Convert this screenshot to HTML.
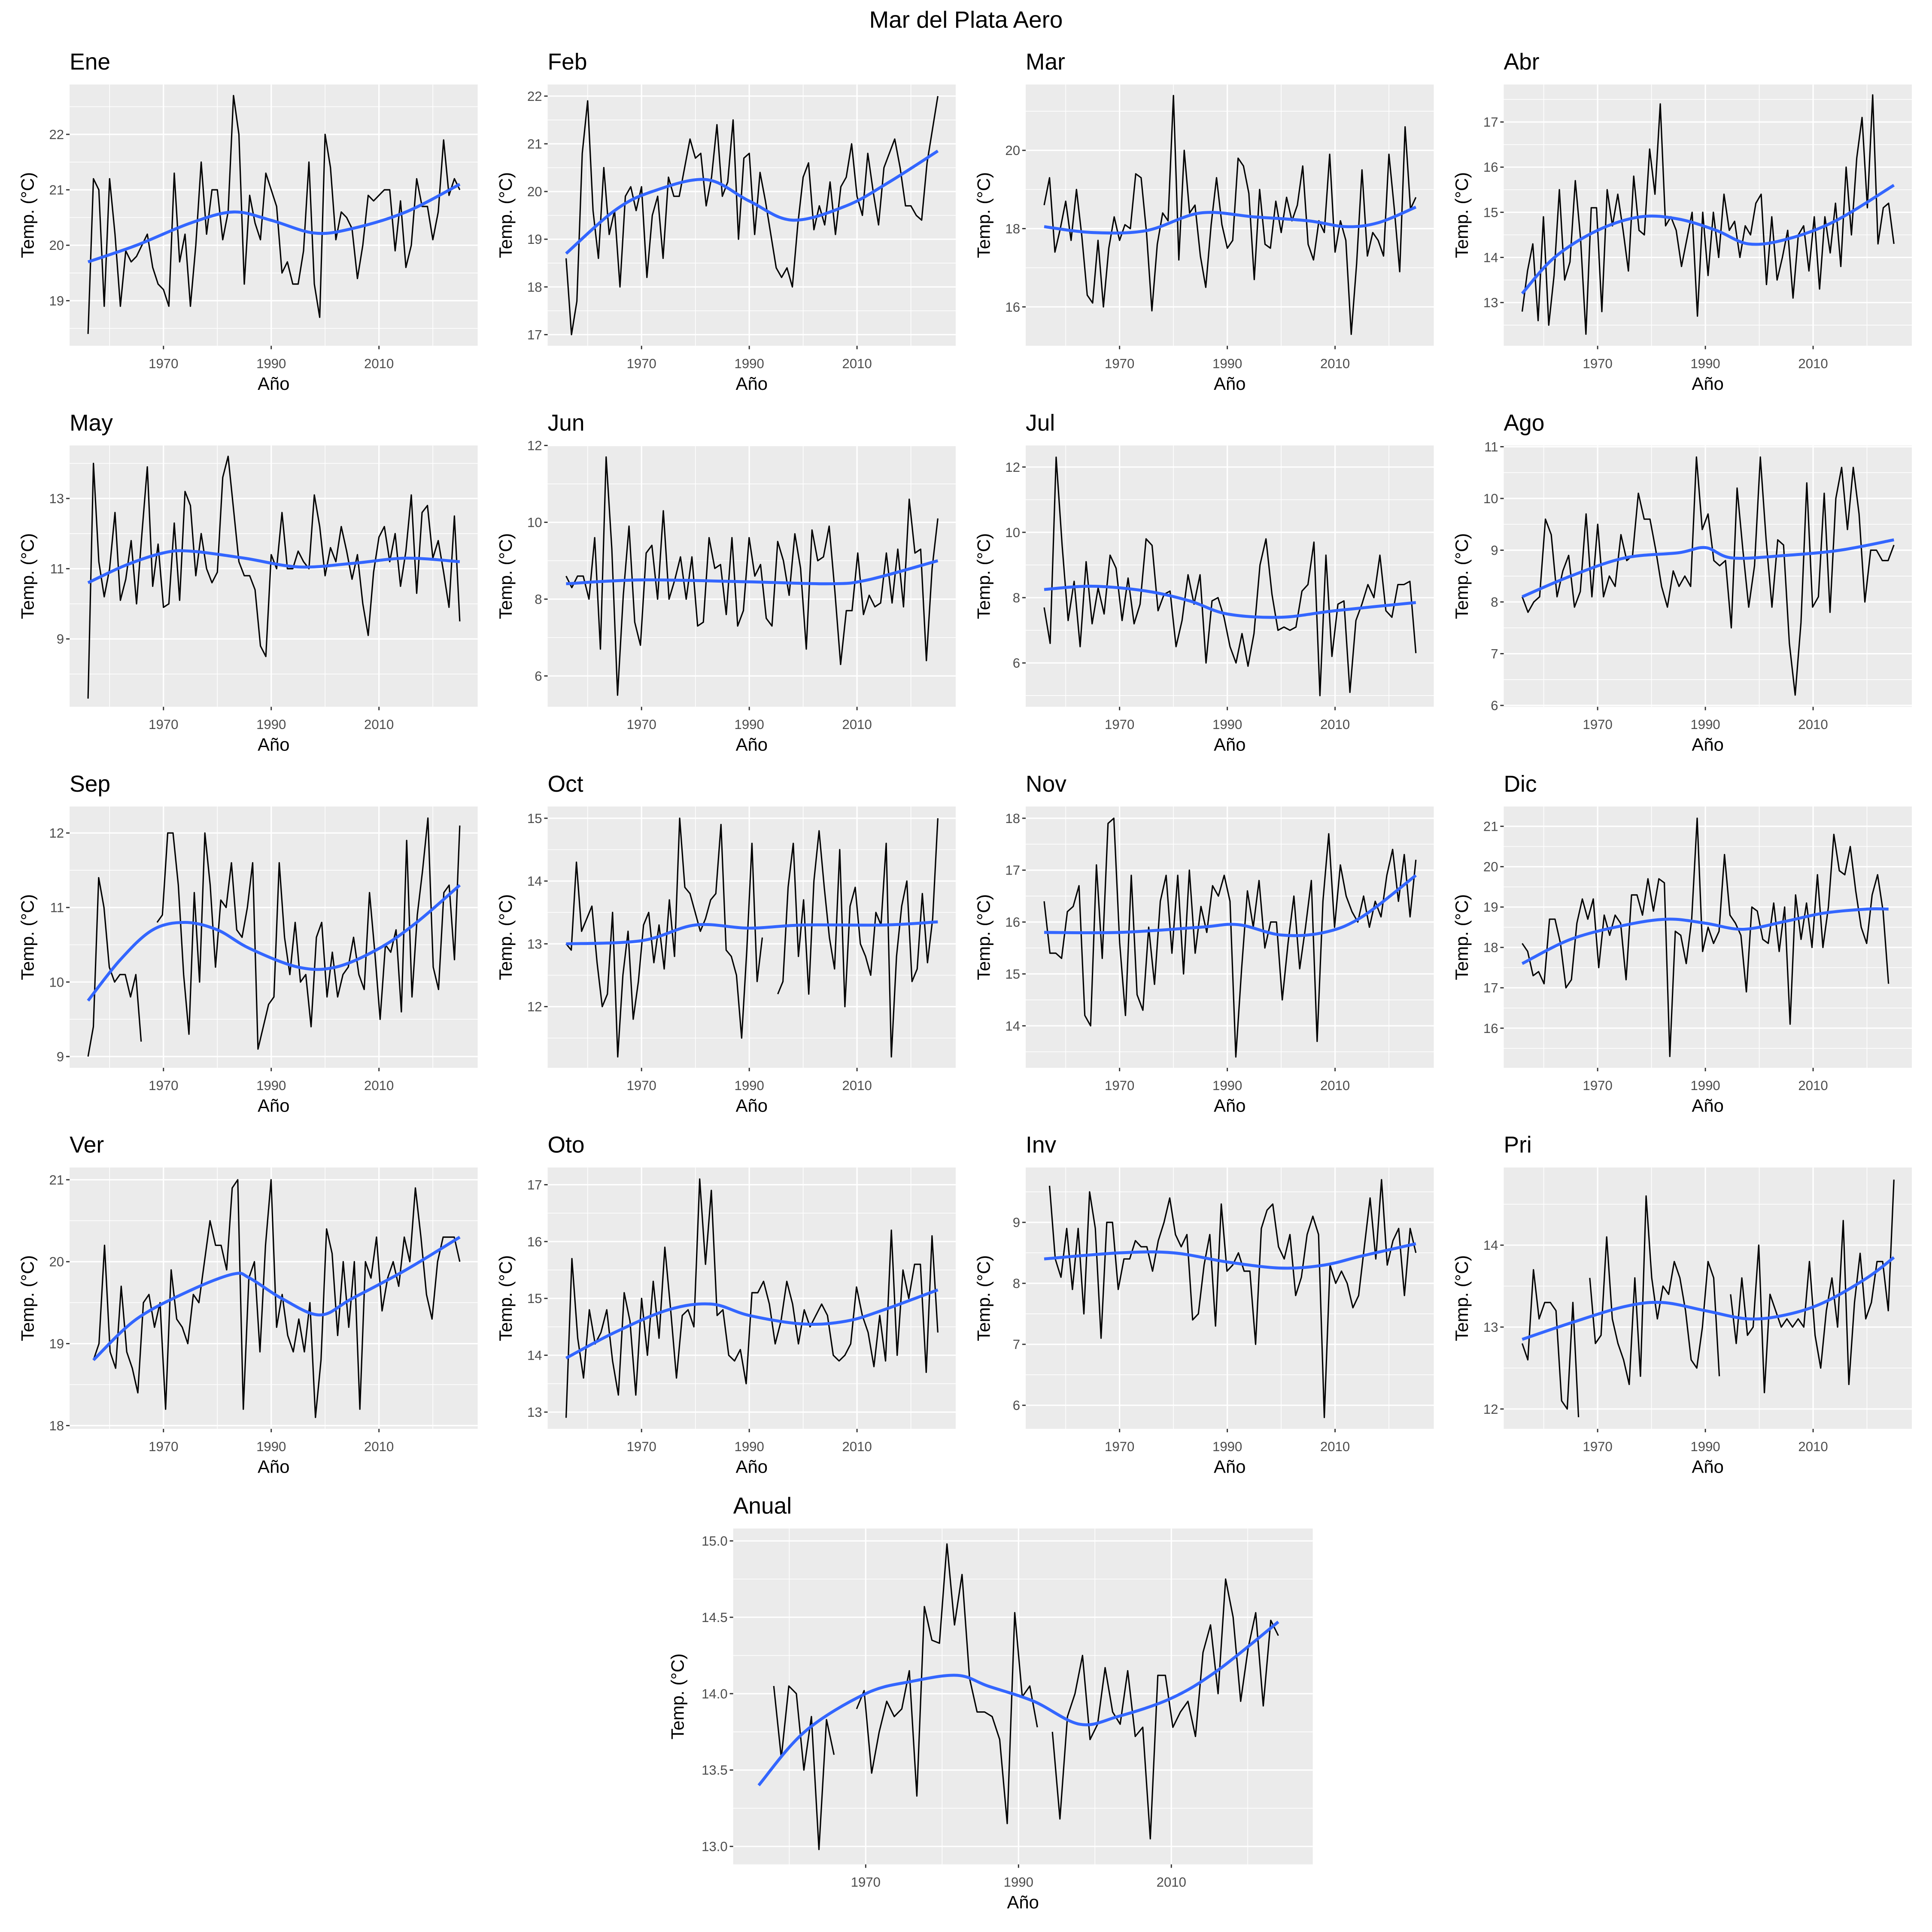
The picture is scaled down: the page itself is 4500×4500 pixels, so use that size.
<!DOCTYPE html>
<html><head><meta charset="utf-8"><style>
html,body{margin:0;padding:0;background:#fff;}
svg{display:block;}
text{font-family:"Liberation Sans",Arial,sans-serif;}
</style></head><body>
<svg id="s" width="4500" height="4500" viewBox="0 0 1560 1560" xmlns="http://www.w3.org/2000/svg">
<rect width="1560" height="1560" fill="#fff"/>
<text x="780" y="22.4" font-size="19" text-anchor="middle" fill="#000">Mar del Plata Aero</text>
</svg>
<script>
var N=null;
var P=[
{t:"Ene",c:0,r:0,ticks:[19,20,21,22],ty:[242.8,108.5],s:1956,e:2025,
d:[18.4,21.2,21.0,18.9,21.2,20.2,18.9,19.9,19.7,19.8,20.0,20.2,19.6,19.3,19.2,18.9,21.3,19.7,20.2,18.9,20.0,21.5,20.2,21.0,21.0,20.1,20.6,22.7,22.0,19.3,20.9,20.4,20.1,21.3,21.0,20.7,19.5,19.7,19.3,19.3,19.9,21.5,19.3,18.7,22.0,21.4,20.1,20.6,20.5,20.3,19.4,20.0,20.9,20.8,20.9,21.0,21.0,19.9,20.8,19.6,20.0,21.2,20.7,20.7,20.1,20.6,21.9,20.9,21.2,21.0],
m:[[1956,19.7],[1965,20.0],[1975,20.4],[1983,20.6],[1990,20.45],[1998,20.22],[2005,20.3],[2015,20.6],[2025,21.1]]},
{t:"Feb",c:1,r:0,ticks:[17,18,19,20,21,22],ty:[270.2,77.6],s:1956,e:2025,
d:[18.6,17.0,17.7,20.8,21.9,19.6,18.6,20.5,19.1,19.6,18.0,19.9,20.1,19.6,20.1,18.2,19.5,19.9,18.6,20.3,19.9,19.9,20.5,21.1,20.7,20.8,19.7,20.3,21.4,19.9,20.2,21.5,19.0,20.7,20.8,19.1,20.4,19.8,19.1,18.4,18.2,18.4,18.0,19.3,20.3,20.6,19.2,19.7,19.3,20.2,19.1,20.1,20.3,21.0,19.9,19.5,20.8,20.0,19.3,20.5,20.8,21.1,20.5,19.7,19.7,19.5,19.4,20.6,21.3,22.0],
m:[[1956,18.7],[1965,19.6],[1972,20.0],[1982,20.25],[1990,19.8],[1998,19.4],[2008,19.7],[2016,20.2],[2025,20.85]]},
{t:"Mar",c:2,r:0,ticks:[16,18,20],ty:[247.8,121.4],s:1956,e:2025,
d:[18.6,19.3,17.4,18.0,18.7,17.7,19.0,17.8,16.3,16.1,17.7,16.0,17.5,18.3,17.7,18.1,18.0,19.4,19.3,17.9,15.9,17.6,18.4,18.2,21.4,17.2,20.0,18.4,18.6,17.3,16.5,18.1,19.3,18.1,17.5,17.7,19.8,19.6,18.9,16.7,19.0,17.6,17.5,18.7,17.9,18.8,18.2,18.6,19.6,17.6,17.2,18.2,17.9,19.9,17.4,18.2,17.7,15.3,17.1,19.5,17.3,17.9,17.7,17.3,19.9,18.5,16.9,20.6,18.5,18.8],
m:[[1956,18.05],[1965,17.9],[1975,17.95],[1985,18.4],[1995,18.3],[2005,18.2],[2012,18.05],[2018,18.15],[2025,18.55]]},
{t:"Abr",c:3,r:0,ticks:[13,14,15,16,17],ty:[244.3,98.5],s:1956,e:2025,
d:[12.8,13.7,14.3,12.6,14.9,12.5,13.6,15.5,13.5,13.9,15.7,14.4,12.3,15.1,15.1,12.8,15.5,14.7,15.4,14.6,13.7,15.8,14.6,14.5,16.4,15.4,17.4,14.7,14.9,14.6,13.8,14.4,15.0,12.7,15.0,13.6,15.0,14.0,15.4,14.6,14.8,14.0,14.7,14.5,15.2,15.4,13.4,14.9,13.5,14.0,14.6,13.1,14.5,14.7,13.7,14.9,13.3,14.9,14.1,15.2,13.8,16.0,14.5,16.2,17.1,15.1,17.6,14.3,15.1,15.2,14.3],
m:[[1956,13.2],[1962,14.0],[1970,14.6],[1978,14.9],[1985,14.85],[1992,14.6],[1998,14.3],[2005,14.4],[2014,14.8],[2025,15.6]]},
{t:"May",c:0,r:1,ticks:[9,11,13],ty:[515.9,402.5],s:1956,e:2025,
d:[7.3,14.0,11.2,10.2,11.0,12.6,10.1,10.7,11.8,10.0,12.0,13.9,10.5,11.7,9.9,10.0,12.3,10.1,13.2,12.8,10.8,12.0,11.0,10.6,10.9,13.6,14.2,12.7,11.2,10.8,10.8,10.4,8.8,8.5,11.4,11.0,12.6,11.0,11.0,11.5,11.2,11.0,13.1,12.2,10.8,11.6,11.2,12.2,11.5,10.7,11.4,10.0,9.1,10.9,11.9,12.2,11.2,12.0,10.5,11.5,13.1,10.3,12.6,12.8,11.3,11.8,10.9,9.9,12.5,9.5],
m:[[1956,10.6],[1963,11.1],[1970,11.45],[1975,11.5],[1985,11.3],[1995,11.05],[2005,11.15],[2015,11.3],[2025,11.2]]},
{t:"Jun",c:1,r:1,ticks:[6,8,10,12],ty:[545.8,359.7],s:1956,e:2025,
d:[8.6,8.3,8.6,8.6,8.0,9.6,6.7,11.7,9.3,5.5,8.1,9.9,7.4,6.8,9.2,9.4,8.0,10.3,8.0,8.5,9.1,8.0,9.1,7.3,7.4,9.6,8.8,8.9,7.6,9.6,7.3,7.7,9.6,8.6,8.9,7.5,7.3,9.5,9.0,8.1,9.7,8.8,6.7,9.8,9.0,9.1,9.9,8.2,6.3,7.7,7.7,9.2,7.6,8.1,7.8,7.9,9.2,7.9,9.3,7.8,10.6,9.2,9.3,6.4,8.8,10.1],
m:[[1956,8.4],[1970,8.5],[1990,8.45],[2005,8.4],[2012,8.5],[2025,9.0]]},
{t:"Jul",c:2,r:1,ticks:[6,8,10,12],ty:[535.3,377.1],s:1956,e:2025,
d:[7.7,6.6,12.3,9.6,7.3,8.5,6.5,9.1,7.2,8.3,7.5,9.3,8.9,7.3,8.6,7.2,7.8,9.8,9.6,7.6,8.1,8.2,6.5,7.3,8.7,7.8,8.7,6.0,7.9,8.0,7.4,6.5,6.0,6.9,5.9,6.9,9.0,9.8,8.1,7.0,7.1,7.0,7.1,8.2,8.4,9.7,5.0,9.3,6.2,7.8,7.9,5.1,7.3,7.8,8.4,8.0,9.3,7.6,7.4,8.4,8.4,8.5,6.3],
m:[[1956,8.25],[1965,8.35],[1975,8.2],[1983,7.9],[1990,7.5],[2000,7.4],[2010,7.6],[2025,7.85]]},
{t:"Ago",c:3,r:1,ticks:[6,7,8,9,10,11],ty:[569.6,360.7],s:1956,e:2025,
d:[8.1,7.8,8.0,8.1,9.6,9.3,8.1,8.6,8.9,7.9,8.2,9.7,8.1,9.5,8.1,8.5,8.3,9.3,8.8,8.9,10.1,9.6,9.6,9.0,8.3,7.9,8.6,8.3,8.5,8.3,10.8,9.4,9.7,8.8,8.7,8.8,7.5,10.2,9.0,7.9,8.7,10.8,9.2,7.9,9.2,9.1,7.2,6.2,7.6,10.3,7.9,8.1,10.1,7.8,10.0,10.6,9.4,10.6,9.7,8.0,9.0,9.0,8.8,8.8,9.1],
m:[[1956,8.1],[1965,8.5],[1975,8.85],[1985,8.95],[1990,9.05],[1995,8.85],[2005,8.9],[2015,9.0],[2025,9.2]]},
{t:"Sep",c:0,r:2,ticks:[9,10,11,12],ty:[853.1,672.6],s:1956,e:2025,
d:[9.0,9.4,11.4,11.0,10.2,10.0,10.1,10.1,9.8,10.1,9.2,N,N,10.8,10.9,12.0,12.0,11.3,10.1,9.3,11.2,10.0,12.0,11.3,10.2,11.1,11.0,11.6,10.7,10.6,11.0,11.6,9.1,9.4,9.7,9.8,11.6,10.6,10.1,10.8,10.0,10.1,9.4,10.6,10.8,9.8,10.4,9.8,10.1,10.2,10.6,10.1,9.9,11.2,10.4,9.5,10.5,10.4,10.7,9.6,11.9,9.8,10.9,11.5,12.2,10.2,9.9,11.2,11.3,10.3,12.1],
m:[[1956,9.75],[1962,10.3],[1968,10.7],[1974,10.8],[1980,10.7],[1986,10.45],[1995,10.2],[2002,10.2],[2010,10.45],[2017,10.8],[2025,11.3]]},
{t:"Oct",c:1,r:2,ticks:[12,13,14,15],ty:[812.8,660.7],s:1956,e:2025,
d:[13.0,12.9,14.3,13.2,13.4,13.6,12.7,12.0,12.2,13.5,11.2,12.5,13.2,11.8,12.4,13.3,13.5,12.7,13.3,12.6,13.7,12.8,15.0,13.9,13.8,13.5,13.2,13.4,13.7,13.8,14.9,12.9,12.8,12.5,11.5,12.9,14.6,12.4,13.1,N,N,12.2,12.4,13.9,14.6,12.8,13.7,12.2,14.0,14.8,13.9,13.1,12.6,14.5,12.0,13.6,13.9,13.0,12.8,12.5,13.5,13.3,14.6,11.2,12.8,13.6,14.0,12.4,12.6,13.8,12.7,13.4,15.0],
m:[[1956,13.0],[1970,13.05],[1980,13.3],[1990,13.25],[2000,13.3],[2015,13.3],[2025,13.35]]},
{t:"Nov",c:2,r:2,ticks:[14,15,16,17,18],ty:[828.3,660.7],s:1956,e:2025,
d:[16.4,15.4,15.4,15.3,16.2,16.3,16.7,14.2,14.0,17.1,15.3,17.9,18.0,15.6,14.2,16.9,14.6,14.3,15.9,14.8,16.4,16.9,15.4,16.9,15.0,17.0,15.4,16.3,15.8,16.7,16.5,16.9,16.4,13.4,15.1,16.6,15.9,16.8,15.5,16.0,16.0,14.5,15.6,16.5,15.1,15.9,16.8,13.7,16.4,17.7,15.9,17.1,16.5,16.2,16.0,16.5,15.9,16.4,16.1,16.9,17.4,16.4,17.3,16.1,17.2],
m:[[1956,15.8],[1970,15.8],[1985,15.9],[1992,15.95],[2000,15.75],[2008,15.8],[2015,16.1],[2025,16.9]]},
{t:"Dic",c:3,r:2,ticks:[16,17,18,19,20,21],ty:[830.2,667.2],s:1956,e:2024,
d:[18.1,17.9,17.3,17.4,17.1,18.7,18.7,18.1,17.0,17.2,18.6,19.2,18.7,19.2,17.5,18.8,18.3,18.8,18.6,17.2,19.3,19.3,18.8,19.7,18.9,19.7,19.6,15.3,18.4,18.3,17.6,18.7,21.2,17.9,18.5,18.1,18.4,20.3,18.8,18.6,18.3,16.9,19.0,18.9,18.2,18.1,19.1,17.9,19.0,16.1,19.3,18.2,19.1,18.0,19.8,18.0,19.0,20.8,19.9,19.8,20.5,19.4,18.5,18.1,19.3,19.8,18.9,17.1],
m:[[1956,17.6],[1965,18.2],[1975,18.55],[1983,18.7],[1990,18.6],[1997,18.45],[2005,18.65],[2012,18.85],[2020,18.95],[2024,18.95]]},
{t:"Ver",c:0,r:3,ticks:[18,19,20,21],ty:[1151.1,952.6],s:1957,e:2025,
d:[18.8,19.0,20.2,18.9,18.7,19.7,18.9,18.7,18.4,19.5,19.6,19.2,19.5,18.2,19.9,19.3,19.2,19.0,19.6,19.5,20.0,20.5,20.2,20.2,19.9,20.9,21.0,18.2,19.8,20.0,18.9,20.2,21.0,19.2,19.6,19.1,18.9,19.3,18.9,19.5,18.1,18.8,20.4,20.1,19.1,20.0,19.2,20.0,18.2,20.0,19.8,20.3,19.4,19.8,20.0,19.7,20.3,20.0,20.9,20.3,19.6,19.3,20.0,20.3,20.3,20.3,20.0],
m:[[1957,18.8],[1965,19.3],[1975,19.65],[1983,19.85],[1986,19.8],[1992,19.55],[1999,19.35],[2005,19.55],[2015,19.9],[2025,20.3]]},
{t:"Oto",c:1,r:3,ticks:[13,14,15,16,17],ty:[1140.2,956.6],s:1956,e:2025,
d:[12.9,15.7,14.3,13.6,14.8,14.2,14.4,14.8,13.9,13.3,15.1,14.6,13.3,15.0,14.0,15.3,14.3,15.9,14.8,13.6,14.7,14.8,14.5,17.1,15.6,16.9,14.7,14.8,14.0,13.9,14.1,13.5,15.1,15.1,15.3,14.9,14.2,14.6,15.3,14.9,14.2,14.8,14.5,14.7,14.9,14.7,14.0,13.9,14.0,14.2,15.2,14.7,14.4,13.8,14.7,13.9,16.2,14.0,15.5,15.0,15.6,15.6,13.7,16.1,14.4],
m:[[1956,13.95],[1965,14.4],[1975,14.8],[1983,14.9],[1990,14.7],[2000,14.55],[2008,14.6],[2015,14.8],[2025,15.15]]},
{t:"Inv",c:2,r:3,ticks:[6,7,8,9],ty:[1134.7,987],s:1957,e:2025,
d:[9.6,8.4,8.1,8.9,7.9,8.9,7.5,9.5,8.9,7.1,9.0,9.0,7.9,8.4,8.4,8.7,8.6,8.6,8.2,8.7,9.0,9.4,8.8,8.6,8.8,7.4,7.5,8.3,8.8,7.3,9.3,8.2,8.3,8.5,8.2,8.2,7.0,8.9,9.2,9.3,8.6,8.4,8.8,7.8,8.1,8.8,9.1,8.8,5.8,8.3,8.0,8.2,8.0,7.6,7.8,8.6,9.4,8.4,9.7,8.3,8.7,8.9,7.8,8.9,8.5],
m:[[1956,8.4],[1970,8.5],[1980,8.5],[1990,8.35],[2000,8.25],[2008,8.3],[2015,8.45],[2025,8.65]]},
{t:"Pri",c:3,r:3,ticks:[12,13,14],ty:[1137.7,1005.4],s:1956,e:2025,
d:[12.8,12.6,13.7,13.1,13.3,13.3,13.2,12.1,12.0,13.3,11.9,N,13.6,12.8,12.9,14.1,13.1,12.8,12.6,12.3,13.6,12.4,14.6,13.6,13.1,13.5,13.4,13.8,13.6,13.2,12.6,12.5,13.0,13.8,13.6,12.4,N,13.4,12.8,13.6,12.9,13.0,14.0,12.2,13.4,13.2,13.0,13.1,13.0,13.1,13.0,13.8,12.9,12.5,13.2,13.6,13.0,14.3,12.3,13.3,13.9,13.1,13.3,13.8,13.8,13.2,14.8],
m:[[1956,12.85],[1965,13.05],[1975,13.25],[1982,13.3],[1990,13.2],[1998,13.1],[2005,13.15],[2012,13.3],[2020,13.6],[2025,13.85]]},
{t:"Anual",anual:1,ticks:[13.0,13.5,14.0,14.5,15.0],ty:[1490.9,1244.2],s:1956,e:2024,
d:[N,N,14.05,13.58,14.05,14.0,13.5,13.85,12.98,13.83,13.6,N,N,13.9,14.02,13.48,13.75,13.95,13.85,13.9,14.15,13.33,14.57,14.35,14.33,14.98,14.45,14.78,14.1,13.88,13.88,13.85,13.7,13.15,14.53,13.98,14.05,13.78,N,13.75,13.18,13.85,14.0,14.25,13.7,13.8,14.17,13.88,13.8,14.15,13.72,13.78,13.05,14.12,14.12,13.78,13.88,13.95,13.72,14.27,14.45,14.0,14.75,14.5,13.95,14.3,14.53,13.92,14.48,14.38],
m:[[1956,13.4],[1962,13.75],[1970,14.0],[1976,14.08],[1982,14.12],[1986,14.05],[1992,13.95],[1998,13.8],[2003,13.85],[2010,13.97],[2016,14.15],[2024,14.47]]}
];
var svg=document.getElementById('s'),h='';
function f(v){return v.toFixed(2);}
P.forEach(function(p){
 var L,R,T,B,x1970,pp;
 if(p.anual){L=592;R=1060;T=1234.2;B=1505.4;x1970=699;pp=6.17;}
 else{L=56.2+386*p.c;R=L+329.5;T=68.2+291.5*p.r;B=T+211;x1970=L+75.8;pp=4.35;}
 var X=function(y){return x1970+(y-1970)*pp;};
 var t0=p.ticks[0],t1=p.ticks[p.ticks.length-1];
 var k=(p.ty[1]-p.ty[0])/(t1-t0);
 var Y=function(v){return p.ty[0]+(v-t0)*k;};
 var dec=p.anual?1:0;
 h+='<rect x="'+f(L)+'" y="'+f(T)+'" width="'+f(R-L)+'" height="'+f(B-T)+'" fill="#ebebeb"/>';
 var st=p.ticks[1]-p.ticks[0];
 for(var i=-1;i<=p.ticks.length;i++){var yy=Y(t0+(i+0.5)*st);if(yy>T&&yy<B)h+='<line x1="'+f(L)+'" x2="'+f(R)+'" y1="'+f(yy)+'" y2="'+f(yy)+'" stroke="#fff" stroke-width="0.55"/>';}
 [1960,1980,2000,2020].forEach(function(yr){var xx=X(yr);if(xx>L&&xx<R)h+='<line x1="'+f(xx)+'" x2="'+f(xx)+'" y1="'+f(T)+'" y2="'+f(B)+'" stroke="#fff" stroke-width="0.55"/>';});
 p.ticks.forEach(function(tv){var yy=Y(tv);h+='<line x1="'+f(L)+'" x2="'+f(R)+'" y1="'+f(yy)+'" y2="'+f(yy)+'" stroke="#fff" stroke-width="1.1"/>';
  h+='<line x1="'+f(L-2.8)+'" x2="'+f(L)+'" y1="'+f(yy)+'" y2="'+f(yy)+'" stroke="#333" stroke-width="1"/>';
  h+='<text x="'+f(L-4.5)+'" y="'+f(yy+3.8)+'" font-size="10.8" fill="#4d4d4d" text-anchor="end">'+tv.toFixed(dec)+'</text>';});
 [1970,1990,2010].forEach(function(yr){var xx=X(yr);h+='<line x1="'+f(xx)+'" x2="'+f(xx)+'" y1="'+f(T)+'" y2="'+f(B)+'" stroke="#fff" stroke-width="1.1"/>';
  h+='<line x1="'+f(xx)+'" x2="'+f(xx)+'" y1="'+f(B)+'" y2="'+f(B+2.8)+'" stroke="#333" stroke-width="1"/>';
  h+='<text x="'+f(xx)+'" y="'+f(B+18)+'" font-size="10.8" fill="#4d4d4d" text-anchor="middle">'+yr+'</text>';});
 var n=p.d.length,seg=[],paths=[];
 for(var i=0;i<n;i++){var v=p.d[i];var yr=p.s+(p.e-p.s)*i/(n-1);
  if(v===null){if(seg.length)paths.push(seg);seg=[];}else seg.push(f(X(yr))+','+f(Y(v)));}
 if(seg.length)paths.push(seg);
 paths.forEach(function(s){if(s.length>1)h+='<polyline points="'+s.join(' ')+'" fill="none" stroke="#000" stroke-width="1.1" stroke-linejoin="round"/>';});
 var m=p.m.map(function(q){return [X(q[0]),Y(q[1])];});
 var d='M'+f(m[0][0])+','+f(m[0][1]);
 for(var i=0;i<m.length-1;i++){var p0=m[Math.max(0,i-1)],p1=m[i],p2=m[i+1],p3=m[Math.min(m.length-1,i+2)];
  d+=' C'+f(p1[0]+(p2[0]-p0[0])/6)+','+f(p1[1]+(p2[1]-p0[1])/6)+' '+f(p2[0]-(p3[0]-p1[0])/6)+','+f(p2[1]-(p3[1]-p1[1])/6)+' '+f(p2[0])+','+f(p2[1]);}
 h+='<path d="'+d+'" fill="none" stroke="#3366FF" stroke-width="2.4"/>';
 h+='<text x="'+f(L)+'" y="'+f(T-12)+'" font-size="18.5" fill="#000">'+p.t+'</text>';
 h+='<text x="'+f((L+R)/2)+'" y="'+f(B+35.5)+'" font-size="14.5" fill="#000" text-anchor="middle">Año</text>';
 var lx=p.anual?L-40:L-29;
 h+='<text transform="translate('+f(lx)+','+f((T+B)/2)+') rotate(-90)" font-size="14.5" fill="#000" text-anchor="middle">Temp. (°C)</text>';
});
svg.insertAdjacentHTML('beforeend',h);
</script>
</body></html>
